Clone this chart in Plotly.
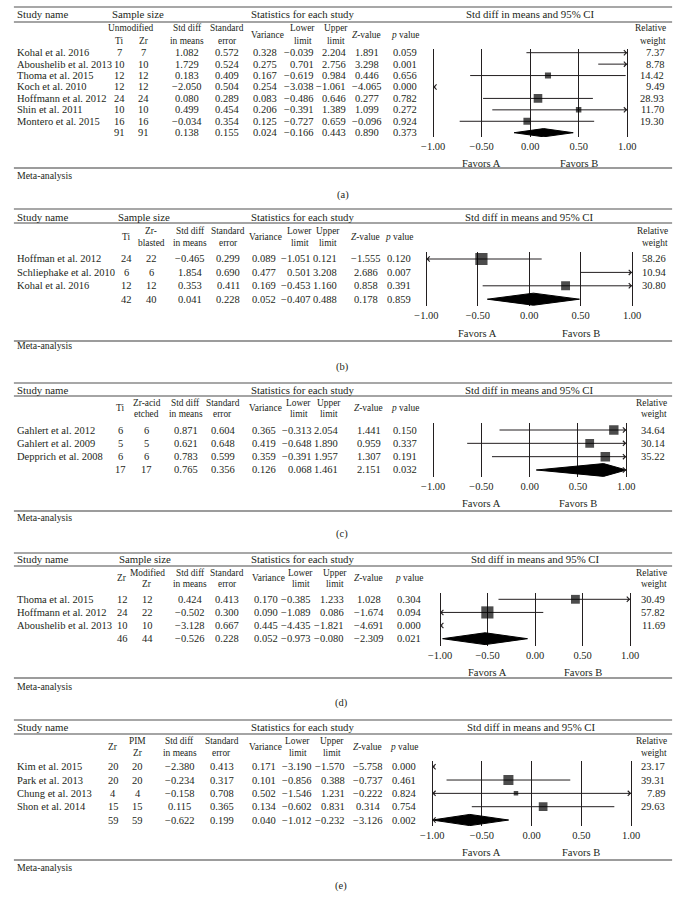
import numpy as np
import plotly.graph_objects as go

W, H = 683, 908
FONT = "Liberation Serif"
TC = "#231f20"
LC = "#231f20"

# ---------------- data ----------------
# (a) Unmodified Ti vs Zr
a_names = ["Kohal et al. 2016", "Aboushelib et al. 2013", "Thoma et al. 2015", "Koch et al. 2010",
           "Hoffmann et al. 2012", "Shin et al. 2011", "Montero et al. 2015", ""]
a_n1 = [7, 10, 12, 12, 24, 10, 16, 91]
a_n2 = [7, 10, 12, 12, 24, 10, 16, 91]
a_smd = [1.082, 1.729, 0.183, -2.050, 0.080, 0.499, -0.034, 0.138]
a_se = [0.572, 0.524, 0.409, 0.504, 0.289, 0.454, 0.354, 0.155]
a_var = [0.328, 0.275, 0.167, 0.254, 0.083, 0.206, 0.125, 0.024]
a_lo = [-0.039, 0.701, -0.619, -3.038, -0.486, -0.391, -0.727, -0.166]
a_hi = [2.204, 2.756, 0.984, -1.061, 0.646, 1.389, 0.659, 0.443]
a_z = [1.891, 3.298, 0.446, -4.065, 0.277, 1.099, -0.096, 0.890]
a_p = [0.059, 0.001, 0.656, 0.000, 0.782, 0.272, 0.924, 0.373]
a_w = [7.37, 8.78, 14.42, 9.49, 28.93, 11.70, 19.30]

# (b) Ti vs Zr-blasted
b_names = ["Hoffman et al. 2012", "Schliephake et al. 2010", "Kohal et al. 2016", ""]
b_n1 = [24, 6, 12, 42]
b_n2 = [22, 6, 12, 40]
b_smd = [-0.465, 1.854, 0.353, 0.041]
b_se = [0.299, 0.690, 0.411, 0.228]
b_var = [0.089, 0.477, 0.169, 0.052]
b_lo = [-1.051, 0.501, -0.453, -0.407]
b_hi = [0.121, 3.208, 1.160, 0.488]
b_z = [-1.555, 2.686, 0.858, 0.178]
b_p = [0.120, 0.007, 0.391, 0.859]
b_w = [58.26, 10.94, 30.80]

# (c) Ti vs Zr-acid etched
c_names = ["Gahlert et al. 2012", "Gahlert et al. 2009", "Depprich et al. 2008", ""]
c_n1 = [6, 5, 6, 17]
c_n2 = [6, 5, 6, 17]
c_smd = [0.871, 0.621, 0.783, 0.765]
c_se = [0.604, 0.648, 0.599, 0.356]
c_var = [0.365, 0.419, 0.359, 0.126]
c_lo = [-0.313, -0.648, -0.391, 0.068]
c_hi = [2.054, 1.890, 1.957, 1.461]
c_z = [1.441, 0.959, 1.307, 2.151]
c_p = [0.150, 0.337, 0.191, 0.032]
c_w = [34.64, 30.14, 35.22]

# (d) Zr vs Modified Zr
d_names = ["Thoma et al. 2015", "Hoffmann et al. 2012", "Aboushelib et al. 2013", ""]
d_n1 = [12, 24, 10, 46]
d_n2 = [12, 22, 10, 44]
d_smd = [0.424, -0.502, -3.128, -0.526]
d_se = [0.413, 0.300, 0.667, 0.228]
d_var = [0.170, 0.090, 0.445, 0.052]
d_lo = [-0.385, -1.089, -4.435, -0.973]
d_hi = [1.233, 0.086, -1.821, -0.080]
d_z = [1.028, -1.674, -4.691, -2.309]
d_p = [0.304, 0.094, 0.000, 0.021]
d_w = [30.49, 57.82, 11.69]

# (e) Zr vs PIM Zr
e_names = ["Kim et al. 2015", "Park et al. 2013", "Chung et al. 2013", "Shon et al. 2014", ""]
e_n1 = [20, 20, 4, 15, 59]
e_n2 = [20, 20, 4, 15, 59]
e_smd = [-2.380, -0.234, -0.158, 0.115, -0.622]
e_se = [0.413, 0.317, 0.708, 0.365, 0.199]
e_var = [0.171, 0.101, 0.502, 0.134, 0.040]
e_lo = [-3.190, -0.856, -1.546, -0.602, -1.012]
e_hi = [-1.570, 0.388, 1.231, 0.831, -0.232]
e_z = [-5.758, -0.737, -0.222, 0.314, -3.126]
e_p = [0.000, 0.461, 0.824, 0.754, 0.002]
e_w = [23.17, 39.31, 7.89, 29.63]

tick_vals = [-1.0, -0.5, 0.0, 0.5, 1.0]
panel_labels = ["(a)", "(b)", "(c)", "(d)", "(e)"]

# ---------------- layout (pixel positions) ----------------
panels = [
    dict(data=(a_names, a_n1, a_n2, a_smd, a_se, a_var, a_lo, a_hi, a_z, a_p, a_w),
         grp="Unmodified", h1="Ti", h2="Zr", sample=105, lohd=300, hihd=334,
         top=7, head=14, hl=22, s1=28, s2=41, sm=35,
         row0=52.7, dr=11.43, vt=49, vb=137, xm1=434, xp1=633, fav=163, bot=168, meta=175, lab=195, labx=341, dh=0.36,
         cols=dict(n1=112, n2=137, smd=182, se=223, var=262, lo=314, hi=347, z=366, p=405, w=673)),
    dict(data=(b_names, b_n1, b_n2, b_smd, b_se, b_var, b_lo, b_hi, b_z, b_p, b_w),
         grp=None, h1="Ti", h2=("Zr-", "blasted"), sample=111, lohd=297, hihd=326,
         top=209, head=217, hl=223, s1=231, s2=243, sm=237,
         row0=259, dr=13.4, vt=252, vb=306, xm1=427, xp1=638, fav=333, bot=341, meta=346, lab=367, labx=341, dh=0.45,
         cols=dict(n1=119, n2=145, smd=185, se=224, var=260, lo=311, hi=337, z=365, p=399, w=675)),
    dict(data=(c_names, c_n1, c_n2, c_smd, c_se, c_var, c_lo, c_hi, c_z, c_p, c_w),
         grp=None, h1="Ti", h2=("Zr-acid", "etched"), sample=None, lohd=296, hihd=327,
         top=383, head=390, hl=396, s1=403, s2=414, sm=408,
         row0=430, dr=13.33, vt=423, vb=477, xm1=434, xp1=632, fav=503, bot=511, meta=517, lab=534, labx=340, dh=0.48,
         cols=dict(n1=113, n2=140, smd=180, se=218, var=260, lo=312, hi=338, z=368, p=405, w=674)),
    dict(data=(d_names, d_n1, d_n2, d_smd, d_se, d_var, d_lo, d_hi, d_z, d_p, d_w),
         grp=None, h1="Zr", h2=("Modified", "Zr"), sample=112, lohd=298, hihd=333,
         top=553, head=559, hl=566, s1=573, s2=584, sm=578,
         row0=599.3, dr=13.13, vt=593, vb=646, xm1=441, xp1=636, fav=672, bot=678, meta=686, lab=703, labx=340, dh=0.45,
         cols=dict(n1=115, n2=141, smd=185, se=223, var=263, lo=311, hi=345, z=368, p=409, w=674)),
    dict(data=(e_names, e_n1, e_n2, e_smd, e_se, e_var, e_lo, e_hi, e_z, e_p, e_w),
         grp=None, h1="Zr", h2=("PIM", "Zr"), sample=None, lohd=295, hihd=330,
         top=720, head=727, hl=734, s1=741, s2=753, sm=747,
         row0=766.7, dr=13.33, vt=761, vb=826, xm1=433, xp1=637, fav=852, bot=860, meta=867, lab=886, labx=339, dh=0.42,
         cols=dict(n1=106, n2=131, smd=174, se=217, var=260, lo=312, hi=346, z=367, p=404, w=674)),
]

BODY = 10.5
HEAD = 10.8
SUB = 9.4


def f3(v):
    return f"{v:.3f}".replace("-", "\u2212")


def f2(v):
    return f"{v:.2f}".replace("-", "\u2212")


def py(p):
    return 1 - p / H


anns = []
shapes = []
axes = {}
fig = go.Figure()


def txt(x, y, s, size=BODY, anchor="center", xref="paper", yref="paper"):
    anns.append(dict(x=x / W if xref == "paper" else x,
                     y=py(y) if yref == "paper" else y,
                     xref=xref, yref=yref, text=s, showarrow=False,
                     xanchor=anchor, yanchor="middle",
                     font=dict(family=FONT, size=size, color=TC)))


def hline(y, width=1.0, color="#555555"):
    shapes.append(dict(type="line", xref="paper", yref="paper", x0=4 / W, x1=679 / W,
                       y0=py(y), y1=py(y), line=dict(color=color, width=width)))


for k, P in enumerate(panels, start=1):
    names, n1, n2, smd, se, var, lo, hi, z, p, wts = P["data"]
    n = len(names)
    nst = n - 1
    C = P["cols"]
    xa = "x" if k == 1 else f"x{k}"
    ya = "y" if k == 1 else f"y{k}"
    xname = "xaxis" if k == 1 else f"xaxis{k}"
    yname = "yaxis" if k == 1 else f"yaxis{k}"

    # --- axes ---
    ppu = (P["xp1"] - P["xm1"]) / 2.0
    pad = 0.02
    axes[xname] = dict(domain=[(P["xm1"] - pad * ppu) / W, (P["xp1"] + pad * ppu) / W],
                       range=[-1 - pad, 1 + pad], anchor=ya, tickvals=tick_vals,
                       ticktext=[f2(v) for v in tick_vals], showgrid=True, gridcolor=LC,
                       gridwidth=1, zeroline=False, showline=False, ticks="",
                       ticklabelstandoff=1,
                       tickfont=dict(family=FONT, size=10.5, color=TC), fixedrange=True)
    axes[yname] = dict(domain=[py(P["vb"]), py(P["vt"])], anchor=xa,
                       range=[(P["vb"] - P["row0"]) / P["dr"], (P["vt"] - P["row0"]) / P["dr"]],
                       visible=False, fixedrange=True)

    # --- rules ---
    hline(P["top"], 1.6, "#8a8a8a")
    hline(P["hl"], 1.1, "#4a4a4a")
    hline(P["bot"], 1.2, "#3a3a3a")

    # --- headers ---
    txt(5, P["head"], "Study name", HEAD, "left")
    if P["sample"] is not None:
        txt(P["sample"] - 2, P["head"], "Sample size", HEAD, "left")
    txt(245, P["head"], "Statistics for each study", HEAD, "left")
    anns.append(dict(x=0, y=py(P["head"]), xref=xa, yref="paper", text="Std diff in means and 95% CI",
                     showarrow=False, xanchor="center", yanchor="middle",
                     font=dict(family=FONT, size=HEAD, color=TC)))

    # --- sub headers ---
    if P["grp"]:
        txt((C["n1"] + C["n2"]) / 2, P["s1"], P["grp"], SUB)
        txt(C["n1"], P["s2"], P["h1"], SUB)
        txt(C["n2"], P["s2"], P["h2"], SUB)
    else:
        txt(C["n1"], P["sm"], P["h1"], SUB)
        txt(C["n2"], P["s1"], P["h2"][0], SUB)
        txt(C["n2"], P["s2"], P["h2"][1], SUB)
    txt(C["smd"], P["s1"], "Std diff", SUB)
    txt(C["smd"], P["s2"], "in means", SUB)
    txt(C["se"], P["s1"], "Standard", SUB)
    txt(C["se"], P["s2"], "error", SUB)
    txt(C["var"] + 2, P["sm"], "Variance", SUB)
    txt(P["lohd"], P["s1"], "Lower", SUB)
    txt(P["lohd"], P["s2"], "limit", SUB)
    txt(P["hihd"], P["s1"], "Upper", SUB)
    txt(P["hihd"], P["s2"], "limit", SUB)
    txt(C["z"], P["sm"], "<i>Z</i>-value", SUB)
    txt(C["p"], P["sm"], "<i>p</i> value", SUB)
    txt(C["w"] + 2, P["s1"], "Relative", SUB, "right")
    txt(C["w"] + 2, P["s2"], "weight", SUB, "right")

    # --- table rows ---
    for i in range(n):
        if names[i]:
            txt(5, i, names[i], BODY, "left", yref=ya)
        txt(C["n1"], i, str(n1[i]), BODY, yref=ya)
        txt(C["n2"], i, str(n2[i]), BODY, yref=ya)
        txt(C["smd"], i, f3(smd[i]), BODY, yref=ya)
        txt(C["se"], i, f3(se[i]), BODY, yref=ya)
        txt(C["var"], i, f3(var[i]), BODY, yref=ya)
        txt(C["lo"], i, f3(lo[i]), BODY, "right", yref=ya)
        txt(C["hi"], i, f3(hi[i]), BODY, "right", yref=ya)
        txt(C["z"], i, f3(z[i]), BODY, yref=ya)
        txt(C["p"], i, f3(p[i]), BODY, yref=ya)
        if i < nst:
            txt(C["w"], i, f2(wts[i]), BODY, "right", yref=ya)

    # --- forest: CI lines (clipped to the axis) ---
    xs, ys = [], []
    for i in range(nst):
        l, h = max(lo[i], -1.0), min(hi[i], 1.0)
        if l < h:
            xs += [l, h, None]
            ys += [i, i, None]
    fig.add_trace(go.Scatter(x=xs, y=ys, mode="lines", line=dict(color=LC, width=1),
                             xaxis=xa, yaxis=ya, hoverinfo="skip", showlegend=False))
    # weight squares
    fig.add_trace(go.Scatter(x=smd[:nst], y=list(range(nst)), mode="markers",
                             marker=dict(symbol="square", color="black",
                                         size=[1.6 * np.sqrt(w) for w in wts], line=dict(width=0)),
                             cliponaxis=True, xaxis=xa, yaxis=ya, hoverinfo="skip", showlegend=False))
    # summary diamond
    l, h, m = max(lo[-1], -1.0), min(hi[-1], 1.0), smd[-1]
    yy = nst
    dh = P["dh"]
    fig.add_trace(go.Scatter(x=[l, m, h, m, l], y=[yy, yy - dh, yy, yy + dh, yy], mode="lines",
                             fill="toself", fillcolor="black", line=dict(color="black", width=1),
                             xaxis=xa, yaxis=ya, hoverinfo="skip", showlegend=False))
    # arrow heads where a CI runs beyond the axis
    for i in range(n):
        if lo[i] < -1:
            anns.append(dict(x=-1, y=i, ax=-0.96, ay=i, xref=xa, yref=ya, axref=xa, ayref=ya,
                             text="", showarrow=True, arrowhead=4, arrowsize=1, arrowwidth=1,
                             arrowcolor=LC))
        if hi[i] > 1:
            anns.append(dict(x=1, y=i, ax=0.96, ay=i, xref=xa, yref=ya, axref=xa, ayref=ya,
                             text="", showarrow=True, arrowhead=4, arrowsize=1, arrowwidth=1,
                             arrowcolor=LC))

    # favors labels
    for xv, s in [(-0.5, "Favors A"), (0.5, "Favors B")]:
        anns.append(dict(x=xv, y=py(P["fav"]), xref=xa, yref="paper", text=s, showarrow=False,
                         xanchor="center", yanchor="middle", font=dict(family=FONT, size=BODY, color=TC)))
    txt(5, P["meta"], "Meta-analysis", 9.8, "left")
    txt(P["labx"], P["lab"], panel_labels[k - 1], 10.5)

fig.update_layout(width=W, height=H, margin=dict(l=0, r=0, t=0, b=0),
                  paper_bgcolor="white", plot_bgcolor="white", showlegend=False,
                  annotations=anns, shapes=shapes, **axes)
fig.write_html("out.html", config={"displayModeBar": False},
               post_script="document.body.style.margin='0';document.documentElement.style.overflow='hidden';")
